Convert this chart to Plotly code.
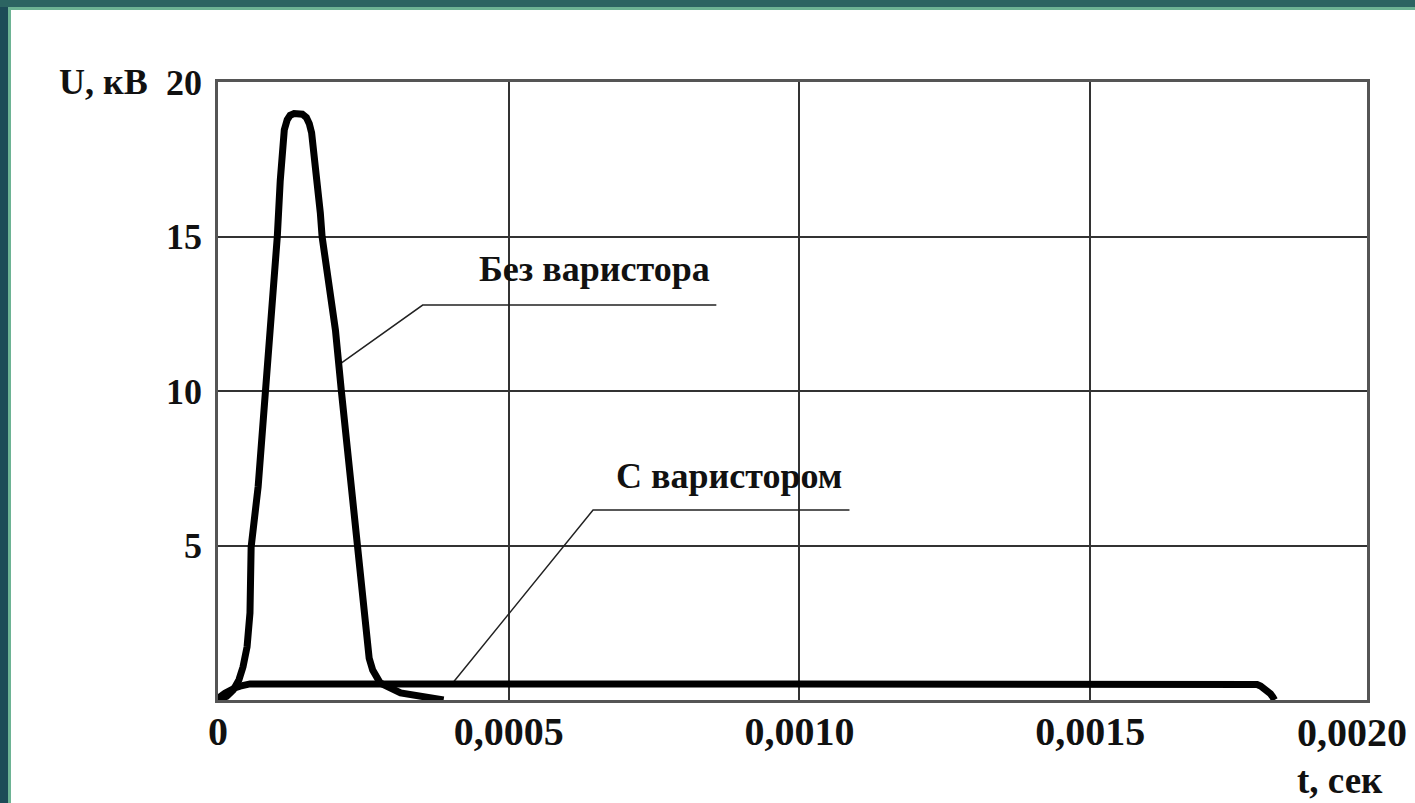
import plotly.graph_objects as go

# ---- data ----
t_no_var = [0, 1.5e-5, 2.6e-5, 3.6e-5, 4.3e-5, 5.0e-5, 5.5e-5, 5.7e-5, 6.9e-5, 7.8e-5, 8.1e-5, 9.0e-5,
            9.5e-5, 1.02e-4, 1.07e-4, 1.10e-4, 1.14e-4, 1.19e-4, 1.24e-4, 1.31e-4, 1.38e-4, 1.45e-4,
            1.52e-4, 1.57e-4, 1.61e-4, 1.64e-4, 1.67e-4, 1.76e-4, 1.79e-4, 1.90e-4, 2.02e-4, 2.12e-4,
            2.19e-4, 2.29e-4, 2.38e-4, 2.50e-4, 2.55e-4, 2.60e-4, 2.66e-4, 2.79e-4, 3.14e-4, 3.71e-4, 3.88e-4]
u_no_var = [0, 0.12, 0.32, 0.65, 1.07, 1.72, 2.82, 4.95, 6.9, 9.06, 10.03, 11.97,
            13.6, 15.0, 16.8, 17.8, 18.45, 18.78, 18.92, 18.98, 18.99, 18.96,
            18.85, 18.65, 18.35, 17.9, 17.4, 15.76, 15.0, 13.6, 11.97, 10.03,
            8.74, 6.9, 4.95, 2.82, 2.0, 1.35, 0.97, 0.55, 0.23, 0.06, 0]

t_var = [0, 3.4e-6, 1.2e-5, 2.07e-5, 3.0e-5, 3.8e-5, 5.5e-5, 1.0e-3, 1.779e-3, 1.787e-3,
         1.793e-3, 1.803e-3, 1.810e-3, 1.814e-3, 1.817e-3]
u_var = [0, 0.1, 0.22, 0.32, 0.4, 0.45, 0.52, 0.52, 0.52, 0.5,
         0.45, 0.32, 0.2, 0.1, 0]

x_tick_vals = [0, 0.0005, 0.0010, 0.0015]
x_tick_text = ["0", "0,0005", "0,0010", "0,0015", "0,0020"]
x_last_label_pos = 0.00195
y_tick_vals = [5, 10, 15, 20]
y_tick_text = ["5", "10", "15", "20"]
x_range = [0, 0.001976]
y_range = [0, 20]

label_no_var = "Без варистора"
label_var = "С варистором"
label_no_var_pos = (6.48e-4, 13.95)
label_var_pos = (8.79e-4, 7.25)
leader_no_var_t = [2.07e-4, 3.52e-4, 8.57e-4]
leader_no_var_u = [10.84, 12.78, 12.78]
leader_var_t = [4.05e-4, 6.45e-4, 1.086e-3]
leader_var_u = [0.58, 6.15, 6.15]

FONT = "Liberation Serif"

fig = go.Figure()

# leader lines
fig.add_trace(go.Scatter(x=leader_no_var_t, y=leader_no_var_u, mode="lines",
                         line=dict(color="#222", width=1.5), hoverinfo="skip", showlegend=False))
fig.add_trace(go.Scatter(x=leader_var_t, y=leader_var_u, mode="lines",
                         line=dict(color="#222", width=1.5), hoverinfo="skip", showlegend=False))

fig.add_trace(go.Scatter(x=t_var, y=u_var, mode="lines", name=label_var,
                         line=dict(color="black", width=7), showlegend=False))
fig.add_trace(go.Scatter(x=t_no_var, y=u_no_var, mode="lines", name=label_no_var,
                         line=dict(color="black", width=7), showlegend=False))

fig.add_annotation(x=label_no_var_pos[0], y=label_no_var_pos[1], xref="x", yref="y",
                   text=label_no_var, showarrow=False,
                   font=dict(family=FONT, size=36, color="#111", weight="bold"))
fig.add_annotation(x=label_var_pos[0], y=label_var_pos[1], xref="x", yref="y",
                   text=label_var, showarrow=False,
                   font=dict(family=FONT, size=36, color="#111", weight="bold"))

W, H = 1415, 803
L, R, T, B = 218, 48, 82, 103
pw = W - L - R
ph = H - T - B
def px(x):
    return (x - L) / pw
def py(y):
    return (H - B - y) / ph

# last x tick label (drawn shifted left of the axis end, as in the original)
fig.add_annotation(x=x_last_label_pos, y=py(732), xref="x", yref="paper",
                   text=x_tick_text[-1], showarrow=False, xanchor="center", yanchor="middle",
                   font=dict(family=FONT, size=40, color="#111", weight="bold"))

# axis titles
fig.add_annotation(x=px(103), y=py(82), xref="paper", yref="paper", text="U, кВ",
                   showarrow=False, xanchor="center", yanchor="middle",
                   font=dict(family=FONT, size=36, color="#111", weight="bold"))
fig.add_annotation(x=px(1340), y=py(780), xref="paper", yref="paper", text="t, сек",
                   showarrow=False, xanchor="center", yanchor="middle",
                   font=dict(family=FONT, size=37, color="#111", weight="bold"))

# slide frame (dark teal border on left and top)
shapes = [
    dict(type="rect", xref="paper", yref="paper", x0=px(0), x1=px(8), y0=py(H), y1=py(0),
         fillcolor="#1d4b57", line_width=0, layer="above"),
    dict(type="rect", xref="paper", yref="paper", x0=px(8), x1=px(11), y0=py(H), y1=py(10),
         fillcolor="#6db394", line_width=0, layer="above"),
    dict(type="rect", xref="paper", yref="paper", x0=px(0), x1=px(W), y0=py(7), y1=py(0),
         fillcolor="#2c6462", line_width=0, layer="above"),
    dict(type="rect", xref="paper", yref="paper", x0=px(8), x1=px(W), y0=py(10), y1=py(7),
         fillcolor="#6db394", line_width=0, layer="above"),
]

fig.update_layout(
    width=W, height=H,
    margin=dict(l=L, r=R, t=T, b=B),
    paper_bgcolor="white", plot_bgcolor="white",
    shapes=shapes,
    showlegend=False,
    xaxis=dict(range=x_range, tickvals=x_tick_vals, ticktext=x_tick_text[:len(x_tick_vals)],
               showgrid=True, gridcolor="#333", gridwidth=1.5, zeroline=False,
               showline=True, mirror=True, linecolor="#555", linewidth=2.5,
               ticks="", ticklabelstandoff=-6,
               tickfont=dict(family=FONT, size=40, color="#111", weight="bold")),
    yaxis=dict(range=y_range, tickvals=y_tick_vals, ticktext=y_tick_text,
               showgrid=True, gridcolor="#333", gridwidth=1.5, zeroline=False,
               showline=True, mirror=True, linecolor="#555", linewidth=2.5,
               ticks="", ticklabelstandoff=6,
               tickfont=dict(family=FONT, size=36, color="#111", weight="bold")),
)

fig.write_html("out.html", config={"displayModeBar": False},
               post_script="document.body.style.margin='0';document.body.style.overflow='hidden';")
